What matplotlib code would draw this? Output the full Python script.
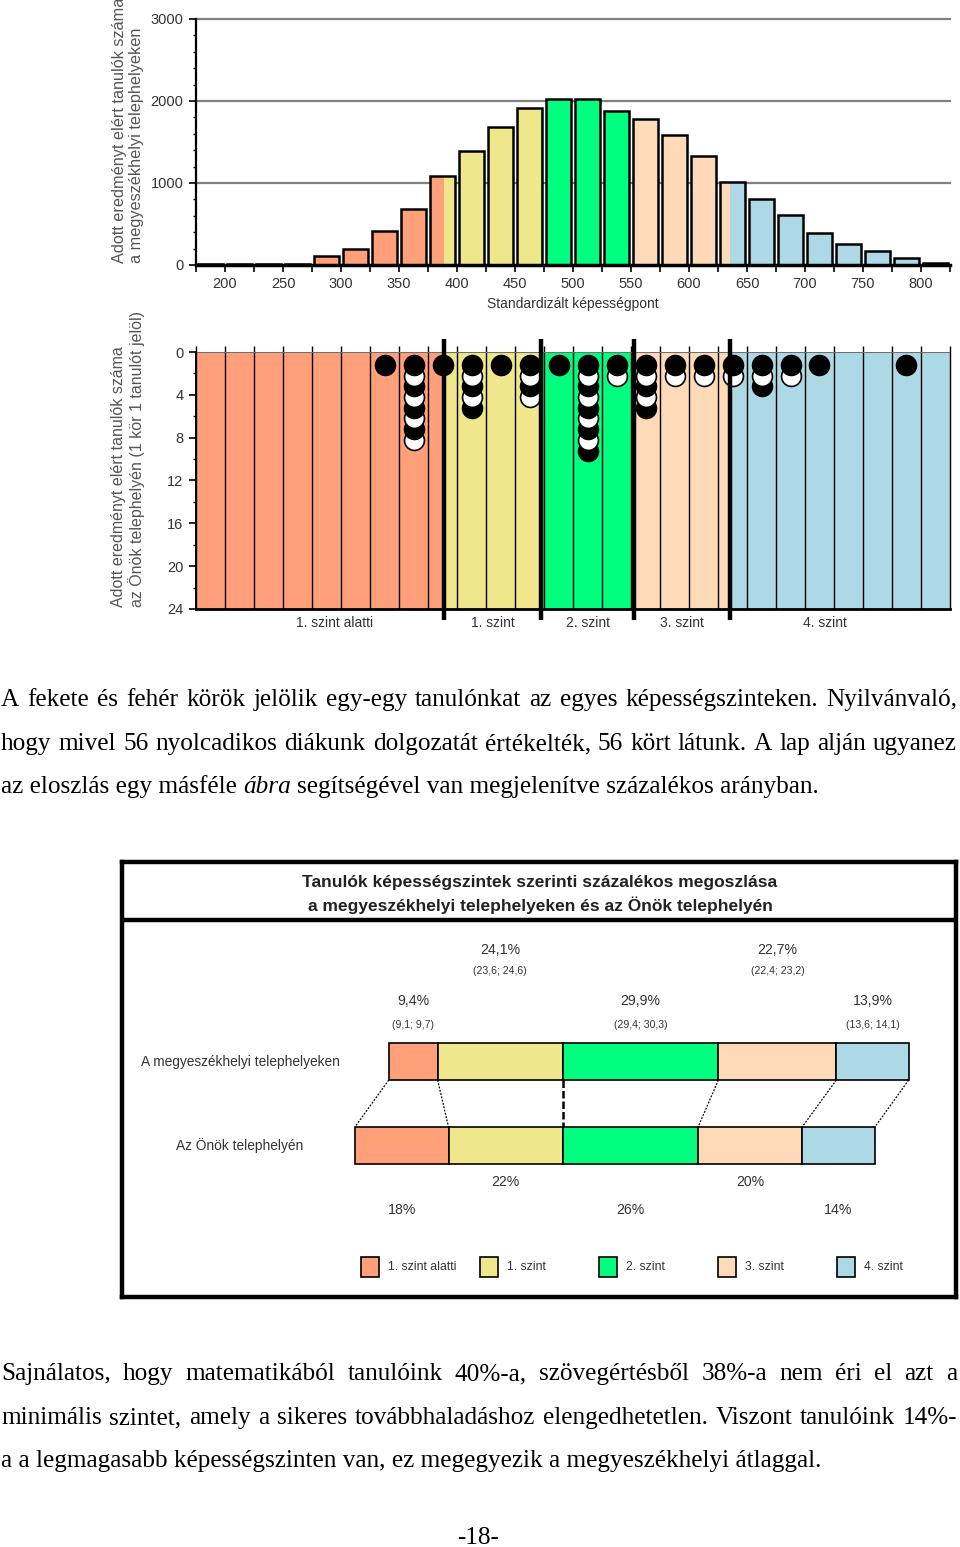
import matplotlib
matplotlib.use("Agg")
import matplotlib.pyplot as plt
import numpy as np
from matplotlib.patches import Rectangle
from matplotlib import font_manager as fm

# ---------------- data ----------------
bin_left = [175, 200, 225, 250, 275, 300, 325, 350, 375, 400, 425, 450, 475,
            500, 525, 550, 575, 600, 625, 650, 675, 700, 725, 750, 775, 800]
county_counts = [12, 12, 12, 12, 110, 197, 414, 689, 1090, 1386, 1685, 1911, 2025,
                 2025, 1878, 1775, 1583, 1333, 1017, 808, 615, 390, 258, 168, 82, 30]

level_names = ["1. szint alatti", "1. szint", "2. szint", "3. szint", "4. szint"]
level_colors = ["#FFA07A", "#F0E68C", "#00FF7F", "#FFDAB9", "#ADD8E6"]
level_cuts = [389, 472, 553, 635]

# one string per column of circles, B = black, W = white (top to bottom)
dot_bins = [325, 350, 375, 400, 425, 450, 475, 500, 525, 550, 575, 600, 625, 650, 675, 700, 775]
dot_patterns = ["B", "BWBWBWBW", "B", "BWBWB", "B", "BWBW", "B", "BWBWBWBWB", "BW",
                "BWBWB", "BW", "BW", "BW", "BWB", "BW", "B", "B"]

county_pct = [9.4, 24.1, 29.9, 22.7, 13.9]
county_ci = ["(9,1; 9,7)", "(23,6; 24,6)", "(29,4; 30,3)", "(22,4; 23,2)", "(13,6; 14,1)"]
school_pct = [18, 22, 26, 20, 14]

para1 = [
    "A fekete és fehér körök jelölik egy-egy tanulónkat az egyes képességszinteken. Nyilvánvaló,",
    "hogy mivel 56 nyolcadikos diákunk dolgozatát értékelték, 56 kört látunk. A lap alján ugyanez",
]
para1_last = [("az eloszlás egy másféle", "normal"), ("ábra", "italic"),
              ("segítségével van megjelenítve százalékos arányban.", "normal")]
para2 = [
    "Sajnálatos, hogy matematikából tanulóink 40%-a, szövegértésből 38%-a nem éri el azt a",
    "minimális szintet, amely a sikeres továbbhaladáshoz elengedhetetlen. Viszont tanulóink 14%-",
]
para2_last = "a a legmagasabb képességszinten van, ez megegyezik a megyeszékhelyi átlaggal."

# ---------------- fonts ----------------
installed = {f.name for f in fm.fontManager.ttflist}


def pick(*cands):
    for c in cands:
        if c in installed:
            return c
    return "DejaVu Sans"


SANS = pick("Liberation Sans", "Arimo", "Arial")
SERIF = pick("Liberation Serif", "Tinos", "Times New Roman")
TXT = "#333333"

# ---------------- layout ----------------
W, H = 960, 1547
fig = plt.figure(figsize=(W / 100, H / 100), dpi=100)


def rect(l, t, r, b):
    return [l / W, 1 - b / H, (r - l) / W, (b - t) / H]


bounds = [175] + level_cuts + [825]

# ---- histogram of county results
ax1 = fig.add_axes(rect(196, 19, 950, 265))
bw = 22
for x0, c in zip(bin_left, county_counts):
    xc = x0 + 12.5
    a, b = xc - bw / 2, xc + bw / 2
    for i in range(5):
        lo, hi = max(a, bounds[i]), min(b, bounds[i + 1])
        if hi > lo:
            ax1.bar(lo, c, width=hi - lo, align="edge", color=level_colors[i], lw=0, zorder=2)
    ax1.bar(xc, c, width=bw, fill=False, edgecolor="black", lw=1.8, zorder=3)
for g in [1000, 2000, 3000]:
    ax1.axhline(g, color="#808080", lw=1.6, zorder=1, clip_on=False)
ax1.set_xlim(175, 825)
ax1.set_ylim(0, 3000)
for s in ["top", "right"]:
    ax1.spines[s].set_visible(False)
ax1.spines["left"].set_linewidth(1.6)
ax1.spines["bottom"].set_linewidth(2.5)
ax1.set_yticks([0, 1000, 2000, 3000])
ax1.set_yticks(np.arange(0, 3001, 200), minor=True)
ax1.set_xticks(np.arange(200, 801, 50))
ax1.set_xticks(np.arange(175, 826, 50), minor=True)
ax1.tick_params(axis="x", which="major", length=5, width=1.2, pad=4, labelsize=10.5, labelcolor=TXT)
ax1.tick_params(axis="y", which="major", length=5, width=1.2, pad=4, labelsize=10.5, labelcolor=TXT)
ax1.tick_params(axis="y", which="minor", length=2.5, width=1)
ax1.tick_params(axis="x", which="minor", length=5, width=1.2)
for lab in ax1.get_xticklabels() + ax1.get_yticklabels():
    lab.set_family(SANS)
ax1.text(0.5, -(304 - 265) / 246, "Standardizált képességpont", transform=ax1.transAxes,
         ha="center", va="center", fontsize=10, family=SANS, color=TXT)
fig.text(128 / W, 1 - 263 / H, "Adott eredményt elért tanulók száma\na megyeszékhelyi telephelyeken",
         rotation=90, ha="center", va="bottom", multialignment="left", fontsize=11.7,
         family=SANS, color="#555555", linespacing=1.1)

# ---- school circles
ax2 = fig.add_axes(rect(196, 352, 950, 609))
ax2.set_xlim(175, 825)
ax2.set_ylim(24, 0)
for i in range(5):
    ax2.axvspan(bounds[i], bounds[i + 1], color=level_colors[i], lw=0, zorder=0)
ax2.vlines(bin_left + [825], -0.6, 24, color="black", lw=1, clip_on=False, zorder=1)
ax2.axhline(0, color="#707070", lw=1.5, zorder=1)
for x0, pat in zip(dot_bins, dot_patterns):
    for k, ch in enumerate(pat):
        ax2.scatter(x0 + 12.5, 1.2 + k, s=205, c="black" if ch == "B" else "white",
                    edgecolors="black", linewidths=1.2, zorder=4 + (len(pat) - k) * 0.01)
ax2.vlines(level_cuts, -1.2, 25.0, color="black", lw=3.2, clip_on=False, zorder=6)
for s in ["top", "right"]:
    ax2.spines[s].set_visible(False)
ax2.spines["left"].set_linewidth(1.4)
ax2.spines["bottom"].set_linewidth(2)
ax2.set_yticks(np.arange(0, 25, 4))
ax2.set_yticks(np.arange(0, 25, 2), minor=True)
ax2.set_xticks([])
ax2.tick_params(axis="y", which="major", length=5, width=1.2, pad=4, labelsize=10.5, labelcolor=TXT)
ax2.tick_params(axis="y", which="minor", length=2.5, width=1)
for lab in ax2.get_yticklabels():
    lab.set_family(SANS)
lab_bounds = [200] + level_cuts + [800]
for i, name in enumerate(level_names):
    ax2.text((lab_bounds[i] + lab_bounds[i + 1]) / 2, 24.7, name, ha="center", va="top",
             fontsize=10, family=SANS, color=TXT, clip_on=False)
fig.text(128 / W, 1 - 607 / H, "Adott eredményt elért tanulók száma\naz Önök telephelyén (1 kör 1 tanulót jelöl)",
         rotation=90, ha="center", va="bottom", multialignment="left", fontsize=11.5,
         family=SANS, color="#555555", linespacing=1.1)

# ---- percentage comparison box
ax3 = fig.add_axes(rect(122, 862, 956, 1297))
ax3.set_xlim(-84.8, 75.6)
ax3.set_ylim(435, 0)
ax3.set_xticks([])
ax3.set_yticks([])
for s in ax3.spines.values():
    s.set_linewidth(3.2)
ax3.axhline(58, color="black", lw=3.2)
ax3.text(-4.4, 20, "Tanulók képességszintek szerinti százalékos megoszlása", ha="center", va="center",
         fontsize=12.5, weight="bold", family=SANS, color="#222222")
ax3.text(-4.4, 43, "a megyeszékhelyi telephelyeken és az Önök telephelyén", ha="center", va="center",
         fontsize=12.5, weight="bold", family=SANS, color="#222222")

top_start = -(county_pct[0] + county_pct[1])
bot_start = -(school_pct[0] + school_pct[1])
top_edges = top_start + np.concatenate([[0], np.cumsum(county_pct)])
bot_edges = bot_start + np.concatenate([[0], np.cumsum(school_pct)])
ax3.barh(199.5, county_pct, left=top_edges[:-1], height=37, color=level_colors,
         edgecolor="black", lw=1.2)
ax3.barh(283.5, school_pct, left=bot_edges[:-1], height=37, color=level_colors,
         edgecolor="black", lw=1.2)
for i, (xt, xb) in enumerate(zip(top_edges, bot_edges)):
    if i == 2:
        ax3.plot([xt, xb], [218, 265], color="black", lw=1.8, ls=(0, (3, 1.2)))
    else:
        ax3.plot([xt, xb], [218, 265], color="black", lw=0.9, ls=(0, (1.5, 1.2)))

for i in range(5):
    xc = top_edges[i] + county_pct[i] / 2
    yp, yc = (139, 163) if i % 2 == 0 else (88, 109)
    ax3.text(xc, yp, f"{county_pct[i]:.1f}".replace(".", ",") + "%", ha="center", va="center",
             fontsize=10.2, family=SANS, color=TXT)
    ax3.text(xc, yc, county_ci[i], ha="center", va="center", fontsize=7.6, family=SANS, color=TXT)
    xb = bot_edges[i] + school_pct[i] / 2
    ax3.text(xb, 348 if i % 2 == 0 else 320, f"{school_pct[i]}%", ha="center", va="center",
             fontsize=10.2, family=SANS, color=TXT)

ax3.text(-62.1, 200, "A megyeszékhelyi telephelyeken", ha="center", va="center",
         fontsize=9.9, family=SANS, color=TXT)
ax3.text(-62.1, 284, "Az Önök telephelyén", ha="center", va="center",
         fontsize=9.9, family=SANS, color=TXT)

for i, name in enumerate(level_names):
    lx = -37.1 + i * 22.9
    ax3.add_patch(Rectangle((lx - 1.73, 395), 3.46, 20, facecolor=level_colors[i],
                            edgecolor="black", lw=1.2))
    ax3.text(lx + 3.4, 405, name, ha="left", va="center", fontsize=8.8, family=SANS, color=TXT)

# ---------------- body text ----------------
FS = 18.2
renderer = fig.canvas.get_renderer()


def width_of(s, style="normal"):
    t = fig.text(0, 0, s, fontsize=FS, family=SERIF, style=style)
    w = t.get_window_extent(renderer).width
    t.remove()
    return w


space_w = width_of("x x") - width_of("xx")


def justified(line, base, x0=1, x1=957):
    words = line.split(" ")
    ws = [width_of(w) for w in words]
    gap = (x1 - x0 - sum(ws)) / (len(words) - 1)
    x = x0
    for w, wd in zip(words, ws):
        fig.text(x / W, 1 - base / H, w, fontsize=FS, family=SERIF, va="baseline", color="black")
        x += wd + gap


def plain(parts, base, x0=1):
    x = x0
    for s, st in parts:
        fig.text(x / W, 1 - base / H, s, fontsize=FS, family=SERIF, style=st, va="baseline", color="black")
        x += width_of(s, st) + space_w


justified(para1[0], 706)
justified(para1[1], 750)
plain(para1_last, 793)
justified(para2[0], 1380)
justified(para2[1], 1424)
plain([(para2_last, "normal")], 1467)
fig.text(478 / W, 1 - 1544 / H, "-18-", ha="center", va="baseline", fontsize=FS, family=SERIF)

fig.savefig("out.png", dpi=100)
